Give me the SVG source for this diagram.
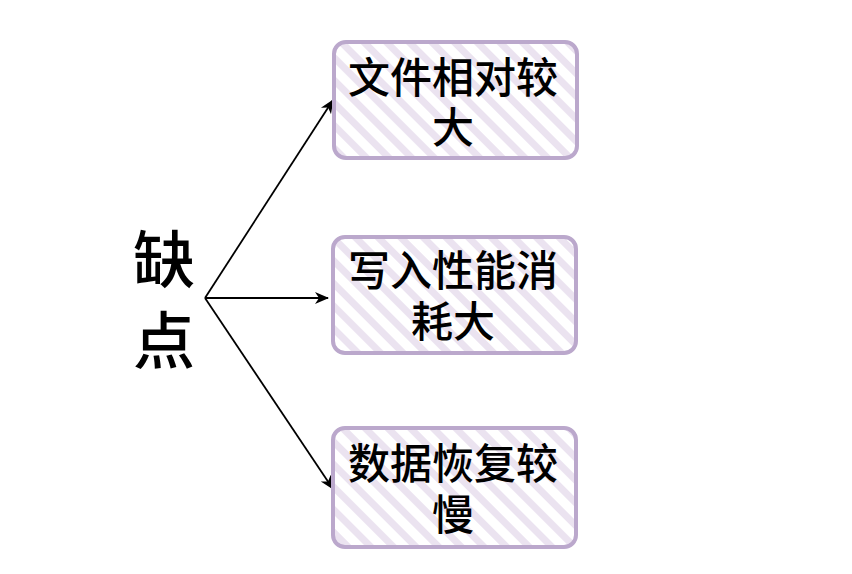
<svg xmlns="http://www.w3.org/2000/svg" width="852" height="574" viewBox="0 0 852 574">
<defs>
<style>
.box{fill:url(#hatch);stroke:#bba8cc;stroke-width:4}
.t{font-family:"Noto Sans CJK SC",sans-serif;font-size:42px;font-weight:500;fill:#000;text-anchor:middle}
.big{font-family:"Noto Sans CJK SC",sans-serif;font-size:62px;font-weight:500;fill:#000;text-anchor:middle}
.c{stroke:#000;stroke-width:1.8;fill:none}
</style>
<pattern id="hatch" width="16" height="16" patternUnits="userSpaceOnUse" patternTransform="rotate(-45)">
<rect x="0" y="0" width="7" height="16" fill="#ebe3f0"/>
</pattern>
<marker id="arr" viewBox="0 0 14 14" refX="13" refY="7" markerWidth="14" markerHeight="14" orient="auto" markerUnits="userSpaceOnUse">
<path d="M0,1 L14,7 L0,13 L4,7 Z" fill="#000"/>
</marker>
</defs>
<rect width="852" height="574" fill="#fff"/>
<g id="connectors">
<path class="c" d="M205,298 L333,100" marker-end="url(#arr)"/>
<path class="c" d="M205,298 L328,298" marker-end="url(#arr)"/>
<path class="c" d="M205,298 L333,489" marker-end="url(#arr)"/>
</g>
<g id="root">
<text class="big" x="164"><tspan x="164" y="283">缺</tspan><tspan x="164" y="364">点</tspan></text>
</g>
<g id="n1">
<rect class="box" x="334" y="42" width="243" height="116" rx="12"/>
<text class="t"><tspan x="453" y="93">文件相对较</tspan><tspan x="453" y="143">大</tspan></text>
</g>
<g id="n2">
<rect class="box" x="333" y="237" width="243" height="116" rx="12"/>
<text class="t"><tspan x="453" y="286">写入性能消</tspan><tspan x="453" y="337">耗大</tspan></text>
</g>
<g id="n3">
<rect class="box" x="333" y="428" width="243" height="119" rx="12"/>
<text class="t"><tspan x="453" y="479">数据恢复较</tspan><tspan x="453" y="530">慢</tspan></text>
</g>
</svg>
